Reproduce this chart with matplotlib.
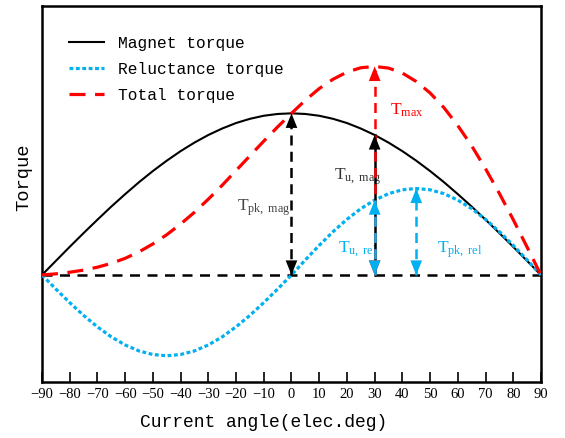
import matplotlib.pyplot as plt

plt.rcParams['font.family'] = ['Liberation Mono', 'DejaVu Sans']
plt.rcParams['mathtext.fontset'] = 'custom'
plt.rcParams['mathtext.rm'] = 'Liberation Serif'
plt.rcParams['mathtext.it'] = 'Liberation Serif:italic'

# current angle (elec. deg), torque per unit of peak magnet torque
angle = [-90, -85, -80, -75, -70, -65, -60, -55, -50, -45, -40, -35, -30,
         -25, -20, -15, -10, -5, 0, 5, 10, 15, 20, 25, 30, 35, 40, 45, 50,
         55, 60, 65, 70, 75, 80, 85, 90]
magnet = [0.0, 0.087, 0.174, 0.259, 0.342, 0.423, 0.5, 0.574, 0.643, 0.707,
          0.766, 0.819, 0.866, 0.906, 0.94, 0.966, 0.985, 0.996, 1.0, 0.996,
          0.985, 0.966, 0.94, 0.906, 0.866, 0.819, 0.766, 0.707, 0.643, 0.574,
          0.5, 0.423, 0.342, 0.259, 0.174, 0.087, 0.0]
reluctance = [0.0, -0.087, -0.171, -0.25, -0.321, -0.383, -0.433, -0.47,
              -0.492, -0.5, -0.492, -0.47, -0.433, -0.383, -0.321, -0.25,
              -0.171, -0.087, 0.0, 0.093, 0.183, 0.268, 0.344, 0.41, 0.463,
              0.503, 0.527, 0.535, 0.527, 0.503, 0.463, 0.41, 0.344, 0.268,
              0.183, 0.093, 0.0]
total = [0.0, 0.007, 0.017, 0.03, 0.048, 0.072, 0.103, 0.143, 0.192, 0.249,
         0.315, 0.388, 0.469, 0.555, 0.646, 0.737, 0.828, 0.916, 1.0, 1.081,
         1.153, 1.211, 1.255, 1.282, 1.29, 1.28, 1.249, 1.197, 1.126, 1.035,
         0.924, 0.799, 0.657, 0.504, 0.342, 0.172, 0.0]

tick_pos = list(range(-90, 91, 10))

blue = '#00b0f0'
red = '#ff0000'

fig = plt.figure(figsize=(5.65, 4.38), dpi=100)
ax = fig.add_axes([0.0743, 0.1279, 0.8832, 0.8584])

ax.plot([-90, 90], [0, 0], color='black', lw=1.8, linestyle=(0, (4, 3)), zorder=1)
ax.plot(angle, magnet, color='black', lw=1.5, label='Magnet torque', zorder=3)
ax.plot(angle, reluctance, color=blue, lw=2.3, linestyle=(0, (1.2, 0.8)),
        label='Reluctance torque', zorder=3)
ax.plot(angle, total, color=red, lw=2.3, linestyle=(0, (5, 3)),
        label='Total torque', zorder=3)


def head(x, tip, tail, color):
    ax.annotate('', xy=(x, tip), xytext=(x, tail), zorder=5,
                arrowprops=dict(arrowstyle='-|>,head_length=1.05,head_width=0.42',
                                mutation_scale=10, color=color, lw=0,
                                shrinkA=0, shrinkB=0))


def arrow(x, y0, y1, color, ls, both=True, z=4):
    ax.plot([x, x], [y0, y1], color=color, lw=1.8, linestyle=ls, zorder=z)
    head(x, y1, y1 - 0.15, color)
    if both:
        head(x, y0, y0 + 0.15, color)


i0 = angle.index(0)
i30 = angle.index(30)
i45 = angle.index(45)

arrow(0, 0, magnet[i0], 'black', (0, (4, 2.5)))
arrow(30, 0, magnet[i30], 'black', '-', both=False)
arrow(30, 0, total[i30], red, (0, (4, 2.5)))
arrow(30, 0, reluctance[i30], blue, (0, (4, 2.5)), z=4.5)
arrow(45, 0, reluctance[i45], blue, (0, (4, 2.5)))

ax.text(-9.9, 0.414, r'$\mathrm{T_{pk,\ mag}}$', color='#444444', fontsize=12.5,
        ha='center', va='center')
ax.text(24, 0.61, r'$\mathrm{T_{u,\ mag}}$', color='#333333', fontsize=12.5,
        ha='center', va='center')
ax.text(23.7, 0.16, r'$\mathrm{T_{u,\ rel}}$', color=blue, fontsize=12.5,
        ha='center', va='center')
ax.text(41.7, 1.02, r'$\mathrm{T_{max}}$', color=red, fontsize=12.5,
        ha='center', va='center')
ax.text(60.8, 0.155, r'$\mathrm{T_{pk,\ rel}}$', color=blue, fontsize=12.5,
        ha='center', va='center')

ax.set_xlim(-90, 90)
ax.set_ylim(-0.662, 1.664)
ax.set_xticks(tick_pos)
ax.set_yticks([])
ax.tick_params(axis='x', direction='in', length=7, width=1.2, labelsize=10.5,
               pad=4, top=False)
for lab in ax.get_xticklabels():
    lab.set_fontfamily('Liberation Serif')
for sp in ax.spines.values():
    sp.set_linewidth(1.8)

ax.set_xlabel('Current angle(elec.deg)', fontsize=13)
ax.xaxis.set_label_coords(0.445, -0.085)
ax.set_ylabel('Torque', fontsize=13.5)
ax.yaxis.set_label_coords(-0.02, 0.545)

ax.legend(loc='upper left', bbox_to_anchor=(69 / 565, 1 - 36 / 438),
          bbox_transform=fig.transFigure, frameon=False, fontsize=11.7,
          handlelength=2.15, handletextpad=0.86, labelspacing=0.68,
          borderpad=0, borderaxespad=0)

fig.savefig('out.png', dpi=100)
